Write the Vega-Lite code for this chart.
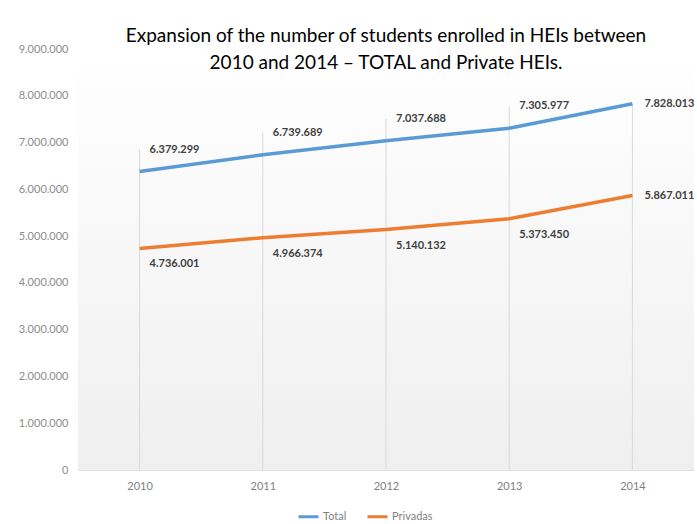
{
  "$schema": "https://vega.github.io/schema/vega-lite/v6.json",
  "autosize": {"type": "none"},
  "padding": {"left": 78, "top": 49, "right": 3, "bottom": 54},
  "width": 616,
  "height": 421,
  "background": "white",
  "config": {
    "locale": {"number": {"decimal": ",", "thousands": ".", "grouping": [3], "currency": ["", ""]}},
    "view": {"stroke": null, "fill": {"gradient": "linear", "x1": 0, "y1": 0, "x2": 0, "y2": 1, "stops": [{"offset": 0, "color": "#ffffff"}, {"offset": 1, "color": "#efefef"}]}},
    "font": "Lato"
  },
  "title": {
    "text": ["Expansion of the number of students enrolled in HEIs between", "2010 and 2014 – TOTAL and Private HEIs."],
    "anchor": "middle",
    "font": "Lato",
    "fontSize": 19,
    "fontWeight": "normal",
    "color": "#000000",
    "lineHeight": 27,
    "baseline": "top",
    "offset": -30
  },
  "data": {
    "values": [
      {"year": "2010", "serie": "Total", "value": 6379299},
      {"year": "2011", "serie": "Total", "value": 6739689},
      {"year": "2012", "serie": "Total", "value": 7037688},
      {"year": "2013", "serie": "Total", "value": 7305977},
      {"year": "2014", "serie": "Total", "value": 7828013},
      {"year": "2010", "serie": "Privadas", "value": 4736001},
      {"year": "2011", "serie": "Privadas", "value": 4966374},
      {"year": "2012", "serie": "Privadas", "value": 5140132},
      {"year": "2013", "serie": "Privadas", "value": 5373450},
      {"year": "2014", "serie": "Privadas", "value": 5867011}
    ]
  },
  "encoding": {
    "x": {
      "field": "year", "type": "ordinal",
      "scale": {"type": "point", "padding": 0.5},
      "axis": {"title": null, "labelAngle": 0, "labelColor": "#7f7f7f", "labelFontSize": 11, "labelPadding": 10, "ticks": false, "domain": true, "domainColor": "#e0e0e0", "grid": false}
    }
  },
  "layer": [
    {
      "transform": [{"filter": "datum.serie == 'Total'"}],
      "mark": {"type": "rule", "color": "#d9d9d9", "strokeWidth": 1},
      "encoding": {
        "y": {"field": "value", "type": "quantitative"},
        "y2": {"datum": 0}
      }
    },
    {
      "transform": [{"filter": "datum.serie == 'Total' && datum.year != '2014'"}],
      "mark": {"type": "tick", "color": "#c8c8c8", "orient": "vertical", "size": 22, "thickness": 1, "yOffset": -11},
      "encoding": {
        "y": {"field": "value", "type": "quantitative"}
      }
    },
    {
      "mark": {"type": "line", "strokeWidth": 3.5},
      "encoding": {
        "y": {
          "field": "value", "type": "quantitative",
          "scale": {"domain": [0, 9000000]},
          "axis": {"title": null, "values": [0, 1000000, 2000000, 3000000, 4000000, 5000000, 6000000, 7000000, 8000000, 9000000], "format": ",d", "grid": false, "domain": false, "ticks": false, "labelColor": "#8c8c8c", "labelFontSize": 11, "labelPadding": 10}
        },
        "color": {
          "field": "serie", "type": "nominal",
          "scale": {"domain": ["Total", "Privadas"], "range": ["#5b9bd5", "#ed7d31"]},
          "legend": {"title": null, "orient": "none", "legendX": 219, "legendY": 456, "direction": "horizontal", "symbolType": "stroke", "symbolStrokeWidth": 3, "symbolSize": 400, "labelColor": "#7f7f7f", "labelFontSize": 11, "labelOffset": 3, "columnPadding": 14}
        }
      }
    },
    {
      "transform": [{"filter": "datum.serie == 'Total' && datum.year != '2014'"}],
      "mark": {"type": "text", "align": "left", "dx": 10, "dy": -22, "fontSize": 11, "fontWeight": "bold", "color": "#404040"},
      "encoding": {
        "y": {"field": "value", "type": "quantitative"},
        "text": {"field": "value", "type": "quantitative", "format": ",d"}
      }
    },
    {
      "transform": [{"filter": "datum.serie == 'Privadas' && datum.year != '2014'"}],
      "mark": {"type": "text", "align": "left", "dx": 10, "dy": 16, "fontSize": 11, "fontWeight": "bold", "color": "#404040"},
      "encoding": {
        "y": {"field": "value", "type": "quantitative"},
        "text": {"field": "value", "type": "quantitative", "format": ",d"}
      }
    },
    {
      "transform": [{"filter": "datum.year == '2014'"}],
      "mark": {"type": "text", "align": "left", "dx": 12, "dy": 0, "fontSize": 11, "fontWeight": "bold", "color": "#404040"},
      "encoding": {
        "y": {"field": "value", "type": "quantitative"},
        "text": {"field": "value", "type": "quantitative", "format": ",d"}
      }
    }
  ]
}
